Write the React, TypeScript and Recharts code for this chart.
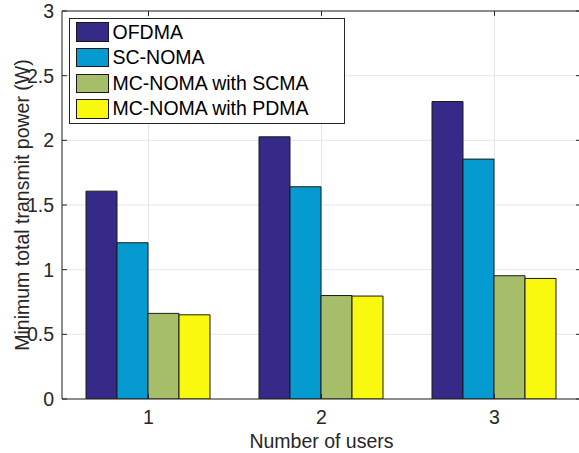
import React from "react";
import { BarChart, Bar, XAxis, YAxis, CartesianGrid, Legend, ReferenceLine } from "recharts";

const users = ["1", "2", "3"];
const ofdma = [1.607, 2.027, 2.3];
const scNoma = [1.208, 1.641, 1.855];
const mcNomaScma = [0.662, 0.8, 0.953];
const mcNomaPdma = [0.651, 0.796, 0.932];
const yTicks = [0, 0.5, 1, 1.5, 2, 2.5, 3];

const seriesNames = ["OFDMA", "SC-NOMA", "MC-NOMA with SCMA", "MC-NOMA with PDMA"];
const seriesColors = ["#352a87", "#069bd0", "#a6bd69", "#f8f90e"];

const data = users.map((u, i) => ({
  users: u,
  ofdma: ofdma[i],
  scNoma: scNoma[i],
  mcNomaScma: mcNomaScma[i],
  mcNomaPdma: mcNomaPdma[i],
}));

const FONT = '"Liberation Sans", Arial, Helvetica, sans-serif';
const INK = "#262626";
const W = 600;
const H = 453;
const M = { top: 11, right: 19, left: 0, bottom: 0 };
const PLOT_RIGHT = W - M.right;
const TICK_LEN = 5;

const XTick = (props: any) => {
  const { x, y, payload } = props;
  const axisY = y - 11;
  return (
    <g>
      <line x1={x} y1={axisY} x2={x} y2={axisY - TICK_LEN} stroke={INK} />
      <line x1={x} y1={M.top} x2={x} y2={M.top + TICK_LEN} stroke={INK} />
      <text x={x} y={y} dy="0.71em" textAnchor="middle" fontSize={19.5} fill={INK} fontFamily={FONT}>
        {payload.value}
      </text>
    </g>
  );
};

const YTick = (props: any) => {
  const { x, y, payload } = props;
  const axisX = x + 8;
  return (
    <g>
      <line x1={axisX} y1={y} x2={axisX + TICK_LEN} y2={y} stroke={INK} />
      <line x1={PLOT_RIGHT - TICK_LEN} y1={y} x2={PLOT_RIGHT} y2={y} stroke={INK} />
      <text x={x} y={y} dy="0.355em" textAnchor="end" fontSize={19.5} fill={INK} fontFamily={FONT}>
        {payload.value}
      </text>
    </g>
  );
};

const YLabel = (props: any) => {
  const vb = props.viewBox || {};
  const cy = vb.y + vb.height / 2;
  const cx = 28.5;
  return (
    <text x={cx} y={cy} transform={`rotate(-90, ${cx}, ${cy})`} textAnchor="middle" fontSize={19.5} fill={INK} fontFamily={FONT}>
      Minimum total transmit power (W)
    </text>
  );
};

const XLabel = (props: any) => {
  const vb = props.viewBox || {};
  const cx = vb.x + vb.width / 2;
  return (
    <text x={cx} y={448} textAnchor="middle" fontSize={19.5} fill={INK} fontFamily={FONT}>
      Number of users
    </text>
  );
};

const LegendBox = (props: any) => {
  const items = [...(props.payload || [])].sort(
    (a: any, b: any) => seriesNames.indexOf(a.value) - seriesNames.indexOf(b.value)
  );
  return (
    <div
      style={{
        width: 274,
        border: "1px solid " + INK,
        background: "#fff",
        paddingBottom: 1,
        fontFamily: FONT,
        fontSize: 19.5,
        color: "#000",
      }}
    >
      {items.map((it: any) => (
        <div key={it.value} style={{ height: 25.6, display: "flex", alignItems: "center" }}>
          <span
            style={{
              marginLeft: 6,
              width: 33,
              height: 19.3,
              boxSizing: "border-box",
              border: "1px solid #1a1a1a",
              background: it.color,
              flexShrink: 0,
            }}
          />
          <span style={{ marginLeft: 4, whiteSpace: "nowrap" }}>{it.value}</span>
        </div>
      ))}
    </div>
  );
};

export default function App() {
  const keys = ["ofdma", "scNoma", "mcNomaScma", "mcNomaPdma"];
  return (
    <div style={{ position: "fixed", left: 0, top: 0, width: 579, height: 453, overflow: "hidden", background: "#fff" }}>
      <BarChart width={W} height={H} data={data} margin={M} barCategoryGap={24} barGap={0}>
        <CartesianGrid stroke="#e5e5e5" strokeWidth={1} />
        <XAxis
          dataKey="users"
          height={54}
          tickSize={0}
          tickMargin={11}
          tick={<XTick />}
          axisLine={{ stroke: INK }}
          tickLine={false}
          label={{ content: XLabel }}
        />
        <YAxis
          width={62}
          domain={[0, 3]}
          ticks={yTicks}
          tickSize={0}
          tickMargin={8}
          tick={<YTick />}
          axisLine={{ stroke: INK }}
          tickLine={false}
          allowDataOverflow
          label={{ content: YLabel }}
        />
        <ReferenceLine y={3} stroke={INK} />
        <Legend
          layout="vertical"
          align="center"
          verticalAlign="middle"
          content={<LegendBox />}
          wrapperStyle={{ left: 68.5, top: 18.3, width: "auto" }}
        />
        {keys.map((k, i) => (
          <Bar
            key={k}
            dataKey={k}
            name={seriesNames[i]}
            fill={seriesColors[i]}
            stroke="#1a1a1a"
            strokeWidth={1}
            isAnimationActive={false}
          />
        ))}
      </BarChart>
    </div>
  );
}
